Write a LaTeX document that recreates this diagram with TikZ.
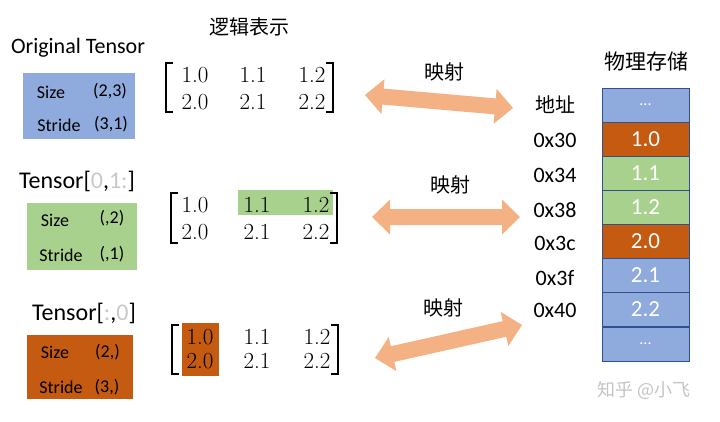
\documentclass[tikz,border=0pt]{standalone}
\usepackage{fontspec}
\newfontfamily\calib{Carlito}
\newfontfamily\cjk{Noto Sans CJK SC}
\definecolor{tblue}{HTML}{8FAADC}
\definecolor{tgreen}{HTML}{A9D18E}
\definecolor{torange}{HTML}{C55A11}
\definecolor{tarrow}{HTML}{F4B183}
\definecolor{tborder}{HTML}{2F528F}
\definecolor{lgray}{HTML}{C8C8C8}
\definecolor{wmark}{HTML}{C4C4C4}
\begin{document}
\begin{tikzpicture}[x=1pt,y=-1pt,
  title/.style={inner sep=0pt, font=\calib\fontsize{22}{26}\selectfont},
  tname/.style={inner sep=0pt, font=\calib\fontsize{24}{28}\selectfont},
  lbl/.style={inner sep=0pt, font=\calib\fontsize{18}{21}\selectfont},
  cjkt/.style={inner sep=0pt, font=\cjk\fontsize{20}{24}\selectfont},
  num/.style={inner sep=0pt, font=\fontsize{23}{27}\selectfont},
  addr/.style={inner sep=0pt, font=\calib\fontsize{22}{26}\selectfont},
  cell/.style={draw=tborder, line width=0.8pt, minimum width=87pt, minimum height=34pt, inner sep=0pt, text=white, font=\calib\fontsize{23}{27}\selectfont},
  brk/.style={line width=1.4pt, line cap=rect},
  pics/maparrow/.style={code={
    \fill[tarrow] (0,0) -- (18,-17.5) -- (18,-8) -- (#1-18,-8) -- (#1-18,-17.5) -- (#1,0)
      -- (#1-18,17.5) -- (#1-18,8) -- (18,8) -- (18,17.5) -- cycle;}}
]
\useasboundingbox (0,0) rectangle (720,421);

% ---- left tensor boxes ----
\node[title] (t1) at (78,48) {Original Tensor};
\fill[tblue] (23,73) rectangle (135,139);
\node[lbl] (s1) at (51,92) {Size};
\node[lbl] (s1v) at (110,91) {(2,3)};
\node[lbl] (r1) at (59,125) {Stride};
\node[lbl] (r1v) at (111,124) {(3,1)};

\node[tname] (t2) at (77,181) {Tensor[\textcolor{lgray}{0},\textcolor{lgray}{1:}]};
\fill[tgreen] (27,203) rectangle (137,270);
\node[lbl] (s2) at (55,220) {Size};
\node[lbl] (s2v) at (112,218) {(,2)};
\node[lbl] (r2) at (61,255) {Stride};
\node[lbl] (r2v) at (112,254) {(,1)};

\node[tname] (t3) at (84,313) {Tensor[\textcolor{lgray}{:},\textcolor{lgray}{0}]};
\fill[torange] (27,335) rectangle (133,399);
\node[lbl] (s3) at (55,352) {Size};
\node[lbl] (s3v) at (107.5,352) {(2,)};
\node[lbl] (r3) at (61,387) {Stride};
\node[lbl] (r3v) at (107,387) {(3,)};

% ---- logical matrices ----
\node[cjkt] (logic) at (249,27) {逻辑表示};

\draw[brk] (172,63) -- (166,63) -- (166,112) -- (172,112);
\draw[brk] (327,63) -- (333,63) -- (333,112) -- (327,112);
\node[num] (m11) at (195,75) {1.0};
\node[num] (m12) at (253,75) {1.1};
\node[num] (m13) at (312,75) {1.2};
\node[num] (m21) at (195,102) {2.0};
\node[num] (m22) at (253,102) {2.1};
\node[num] (m23) at (312,102) {2.2};

\fill[tgreen] (238,190) rectangle (333,215);
\draw[brk] (177,193) -- (171,193) -- (171,243) -- (177,243);
\draw[brk] (331,193) -- (337,193) -- (337,243) -- (331,243);
\node[num] (n11) at (195,205) {1.0};
\node[num] (n12) at (257,205) {1.1};
\node[num] (n13) at (316,205) {1.2};
\node[num] (n21) at (195,232) {2.0};
\node[num] (n22) at (257,232) {2.1};
\node[num] (n23) at (316,232) {2.2};

\fill[torange] (182,323) rectangle (219,376);
\draw[brk] (178,325) -- (172,325) -- (172,374) -- (178,374);
\draw[brk] (332,325) -- (338,325) -- (338,374) -- (332,374);
\node[num] (p11) at (200,337) {1.0};
\node[num] (p12) at (257,337) {1.1};
\node[num] (p13) at (317,337) {1.2};
\node[num] (p21) at (200,361) {2.0};
\node[num] (p22) at (257,361) {2.1};
\node[num] (p23) at (317,361) {2.2};

% ---- mapping arrows ----
\coordinate (a1s) at (365,95);
\coordinate (a2s) at (372,217);
\coordinate (a3s) at (375,358);
\pic[rotate=-5.0] at (a1s) {maparrow=148.6};
\pic at (a2s) {maparrow=148};
\pic[rotate=12.65] at (a3s) {maparrow=150.7};
\node[cjkt] (map1) at (444,72) {映射};
\node[cjkt] (map2) at (450,185) {映射};
\node[cjkt] (map3) at (443,308) {映射};

% ---- physical storage ----
\node[cjkt, font=\cjk\fontsize{21}{25}\selectfont] (phys) at (646,61) {物理存储};
\node[cjkt] (addr) at (555,105) {地址};
\node[addr] (ad30) at (555,140) {0x30};
\node[addr] (ad34) at (555,175) {0x34};
\node[addr] (ad38) at (555,210) {0x38};
\node[addr] (ad3c) at (555,243) {0x3c};
\node[addr] (ad3f) at (555,278) {0x3f};
\node[addr] (ad40) at (555,310) {0x40};

\node[cell, fill=tblue, font=\calib\fontsize{16}{20}\selectfont] (c0) at (645.5,105) {...};
\node[cell, fill=torange] (c1) at (645.5,139) {1.0};
\node[cell, fill=tgreen] (c2) at (645.5,173) {1.1};
\node[cell, fill=tgreen] (c3) at (645.5,207) {1.2};
\node[cell, fill=torange] (c4) at (645.5,241) {2.0};
\node[cell, fill=tblue] (c5) at (645.5,275) {2.1};
\node[cell, fill=tblue] (c6) at (645.5,309) {2.2};
\node[cell, fill=tblue, font=\calib\fontsize{16}{20}\selectfont] (c7) at (645.5,344) {...};

\node[inner sep=0pt, text=wmark, font=\cjk\fontsize{18}{22}\selectfont] (wm) at (644,390) {知乎 @小飞};
\end{tikzpicture}
\end{document}
